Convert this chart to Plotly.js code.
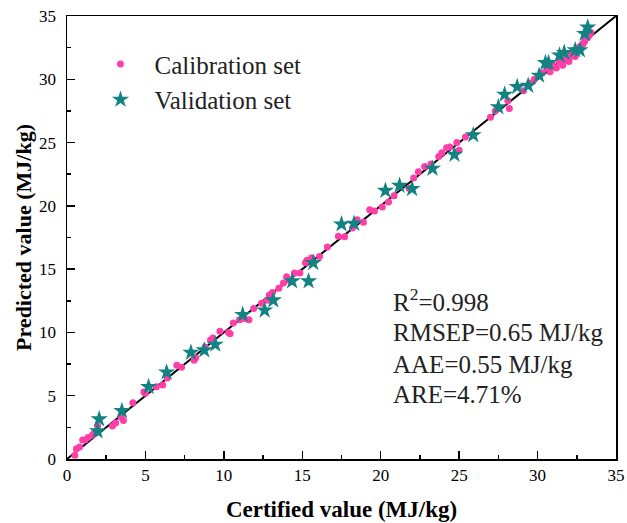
<!DOCTYPE html>
<html>
<head>
<meta charset="utf-8">
<script src="https://cdn.plot.ly/plotly-3.0.1.min.js"></script>
<style>html,body{margin:0;padding:0;background:#fff;}#chart{width:627px;height:523px;}</style>
</head>
<body>
<div id="chart"></div>
<script>
const calX = [0.5,0.6,0.8,1.0,1.15,1.35,1.6,1.7,1.95,2.9,3.1,3.45,3.6,4.2,4.9,5.0,5.7,6.1,6.4,7.0,7.3,8.1,8.2,8.8,9.15,9.3,9.75,10.3,10.4,10.6,11.0,11.3,11.6,11.9,12.4,12.75,12.9,13.1,13.5,13.8,14.2,14.0,14.5,14.85,15.2,15.3,15.6,16.1,16.6,17.3,17.7,18.2,18.5,18.9,19.3,19.6,20.1,20.5,20.85,21.8,22.1,22.4,22.8,23.2,23.7,23.9,24.2,24.4,24.85,25.0,25.4,27.0,27.3,28.2,28.1,29.1,29.5,29.8,30.3,30.6,30.8,31.0,31.2,31.4,31.6,31.9,32.0,32.2,32.4,32.5,32.7,32.9,33.0,33.2,33.3,33.4,30.9,31.7,32.1];
const calY = [0.3,0.8,0.95,1.5,1.5,1.7,1.85,2.0,2.6,2.6,2.85,3.3,3.05,4.45,5.3,5.2,5.7,5.85,6.4,7.4,7.25,7.8,8.0,8.85,9.4,9.55,10.1,10.0,9.9,10.75,11.0,11.1,11.0,11.9,12.3,12.55,12.95,13.15,13.5,13.9,14.1,14.4,14.7,14.7,15.5,15.7,15.9,16.0,16.75,17.6,17.55,18.25,18.9,18.7,19.7,19.6,19.9,20.3,20.8,21.4,22.2,22.7,23.1,23.3,23.9,24.2,24.6,24.65,25.0,24.4,25.45,27.0,27.5,27.7,28.3,29.1,29.7,30.0,30.5,30.9,30.6,31.1,30.9,31.4,31.1,31.7,31.4,32.1,31.8,32.3,32.6,32.8,33.0,33.3,33.5,33.7,31.2,31.5,31.8];
const valX = [1.95,2.05,3.5,5.2,6.35,7.9,8.75,9.45,11.2,12.6,13.15,14.35,15.4,15.7,17.5,18.3,20.3,21.2,22.0,23.3,24.7,25.9,27.5,27.9,28.7,29.4,30.1,30.5,30.7,31.4,31.7,32.4,32.7,33.0,33.2];
const valY = [2.2,3.15,3.8,5.7,6.85,8.4,8.6,9.05,11.4,11.75,12.55,14.05,14.05,15.5,18.55,18.6,21.2,21.6,21.35,22.95,24.05,25.6,27.8,28.8,29.4,29.5,30.3,31.3,31.3,31.9,32.1,32.3,32.3,33.6,34.1];
const lineX = [0,35];
const lineY = [0,35];
const statsText = ["R<sup>2</sup>=0.998","RMSEP=0.65 MJ/kg","AAE=0.55 MJ/kg","ARE=4.71%"];
const statsY = [12.56,9.96,7.43,5.06];

const FONT = "Liberation Serif, Times New Roman, serif";
const traces = [
  {x: lineX, y: lineY, mode: 'lines', line: {color: '#000', width: 2}, showlegend: false, hoverinfo: 'skip'},
  {x: calX, y: calY, mode: 'markers', name: 'Calibration set', marker: {symbol: 'circle', size: 7, color: '#FF3EA8'}},
  {x: valX, y: valY, mode: 'markers', name: 'Validation set', marker: {symbol: 'star', size: 13, color: '#128282'}}
];
const axisCommon = {
  range: [0,35], dtick: 5, tick0: 0, ticks: 'inside', ticklen: 8, tickwidth: 1.5, tickcolor: '#000',
  showline: true, linecolor: '#000', linewidth: 1.5, mirror: true, showgrid: false, zeroline: false,
  tickfont: {family: FONT, size: 17, color: '#000'},
  minor: {dtick: 2.5, ticks: 'inside', ticklen: 4, tickwidth: 1.5, tickcolor: '#000', showgrid: false}
};
const layout = {
  width: 627, height: 523,
  margin: {l: 67, r: 11, t: 16, b: 64},
  paper_bgcolor: '#fff', plot_bgcolor: '#fff',
  font: {family: FONT, color: '#000'},
  xaxis: Object.assign({}, axisCommon, {title: {text: '<b>Certified value (MJ/kg)</b>', font: {family: FONT, size: 23, color: '#000'}, standoff: 17}}),
  yaxis: Object.assign({}, axisCommon, {ticklabelstandoff: 6, title: {text: '<b>Predicted value (MJ/kg)</b>', font: {family: FONT, size: 22, color: '#000'}, standoff: 1}}),
  legend: {x: 0.0355, y: 0.943, xanchor: 'left', yanchor: 'top', bgcolor: 'rgba(0,0,0,0)', font: {family: FONT, size: 25, color: '#222'}, itemwidth: 58, tracegroupgap: 0},
  annotations: statsText.map((t, i) => ({x: 20.65, y: statsY[i], xref: 'x', yref: 'y', text: t, showarrow: false, xanchor: 'left', yanchor: 'middle', font: {family: FONT, size: 25, color: '#222'}}))
};
Plotly.newPlot('chart', traces, layout, {displayModeBar: false, staticPlot: true});
</script>
</body>
</html>
